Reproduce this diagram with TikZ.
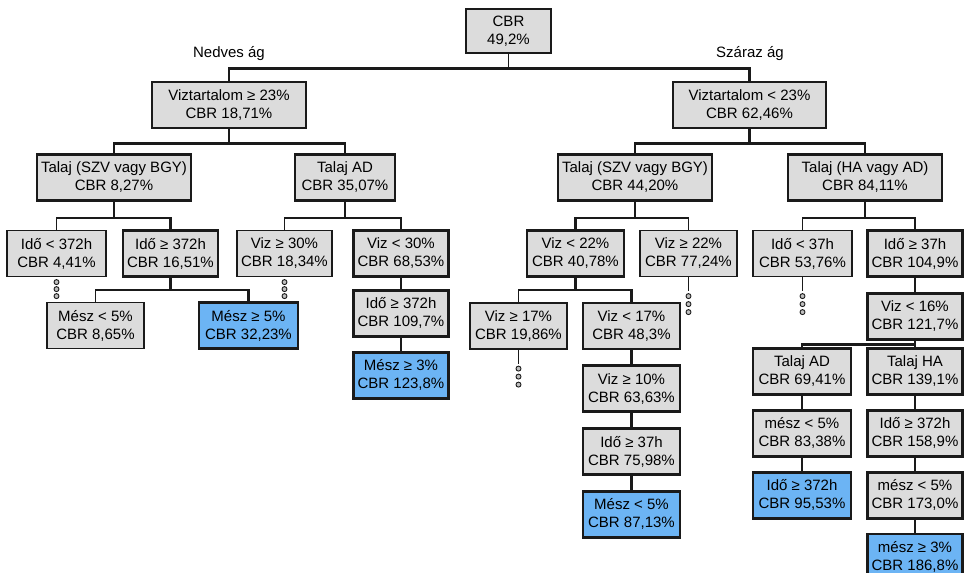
\documentclass[tikz,border=0pt]{standalone}
\usepackage{fontspec}
\setmainfont{Liberation Sans}
\usetikzlibrary{positioning,calc}
\definecolor{boxgray}{HTML}{DCDCDC}
\definecolor{leafblue}{HTML}{6CB4F4}
\definecolor{linegray}{HTML}{1A1A1A}

\begin{document}
\begin{tikzpicture}[x=1pt,y=-1pt,
  box/.style={draw=linegray,fill=boxgray,line width=1.2pt,align=center,inner sep=1pt,minimum height=46pt,font=\fontsize{15}{18}\selectfont},
  hot/.style={line width=2.8pt},
  leaf/.style={box,hot,fill=leafblue},
  lbl/.style={font=\fontsize{15}{18}\selectfont},
  edge/.style={draw=linegray,line width=1.3pt},
  hotedge/.style={draw=linegray,line width=2.8pt},
  dot/.style={circle,draw=linegray,fill=gray!50,line width=0.9pt,inner sep=0pt,minimum size=5pt}
]
  \useasboundingbox (0,0) rectangle (970,573);

  % gyoker es a ket ag
  \node[box,minimum width=85pt,minimum height=44pt] (root) at (508.5,31) {CBR\\49,2\%};
  \node[lbl] (wetlbl) at (229,54) {Nedves ág};
  \node[lbl] (drylbl) at (750,54) {Száraz ág};
  \node[box,hot,minimum width=154pt] (wet) at (229,105) {Viztartalom ≥ 23\%\\CBR 18,71\%};
  \node[box,hot,minimum width=153pt] (dry) at (749.5,105) {Viztartalom < 23\%\\CBR 62,46\%};

  % talaj szint
  \node[box,hot,minimum width=154pt] (wsoil) at (114,177.5) {Talaj (SZV vagy BGY)\\CBR 8,27\%};
  \node[box,hot,minimum width=100pt] (wad) at (345,177.5) {Talaj AD\\CBR 35,07\%};
  \node[box,hot,minimum width=154pt] (dsoil) at (635,177.5) {Talaj (SZV vagy BGY)\\CBR 44,20\%};
  \node[box,hot,minimum width=154pt] (dha) at (865,177.5) {Talaj (HA vagy AD)\\CBR 84,11\%};

  % harmadik szint
  \node[box,minimum width=99pt] (a1) at (56.5,253.5) {Idő < 372h\\CBR 4,41\%};
  \node[box,hot,minimum width=95pt] (a2) at (170.5,253.5) {Idő ≥ 372h\\CBR 16,51\%};
  \node[box,minimum width=95pt] (a3) at (284.5,253.5) {Viz ≥ 30\%\\CBR 18,34\%};
  \node[box,hot,minimum width=95pt] (a4) at (401,253.5) {Viz < 30\%\\CBR 68,53\%};
  \node[box,hot,minimum width=97pt] (a5) at (575.5,253.5) {Viz < 22\%\\CBR 40,78\%};
  \node[box,minimum width=97pt] (a6) at (688.5,253.5) {Viz ≥ 22\%\\CBR 77,24\%};
  \node[box,minimum width=99pt] (a7) at (802.5,253.5) {Idő < 37h\\CBR 53,76\%};
  \node[box,hot,minimum width=95pt] (a8) at (915,253.5) {Idő ≥ 37h\\CBR 104,9\%};

  % nedves ag levelei
  \node[box,minimum width=97pt] (b1) at (95.5,325.5) {Mész < 5\%\\CBR 8,65\%};
  \node[leaf,minimum width=99pt] (b2) at (248.5,325.5) {Mész ≥ 5\%\\CBR 32,23\%};
  \node[box,hot,minimum width=95pt,below=11pt of a4] (b3) {Idő ≥ 372h\\CBR 109,7\%};
  \node[leaf,minimum width=95pt,below=13pt of b3] (b4) {Mész ≥ 3\%\\CBR 123,8\%};

  % szaraz ag, SZV/BGY
  \node[box,minimum width=97pt] (b5) at (518.5,326) {Viz ≥ 17\%\\CBR 19,86\%};
  \node[box,hot,minimum width=97pt] (b6) at (631.5,326) {Viz < 17\%\\CBR 48,3\%};
  \node[box,hot,minimum width=97pt,below=14pt of b6] (b7) {Viz ≥ 10\%\\CBR 63,63\%};
  \node[box,hot,minimum width=97pt,below=14pt of b7] (b8) {Idő ≥ 37h\\CBR 75,98\%};
  \node[leaf,minimum width=97pt,below=14pt of b8] (b9) {Mész < 5\%\\CBR 87,13\%};

  % szaraz ag, HA/AD
  \node[box,hot,minimum width=95pt,below=14pt of a8] (c1) {Viz < 16\%\\CBR 121,7\%};
  \node[box,hot,minimum width=98pt] (c2) at (802,371.5) {Talaj AD\\CBR 69,41\%};
  \node[box,hot,minimum width=95pt] (c3) at (915,371.5) {Talaj HA\\CBR 139,1\%};
  \node[box,hot,minimum width=98pt,below=13pt of c2] (c4) {mész < 5\%\\CBR 83,38\%};
  \node[leaf,minimum width=98pt,below=13pt of c4] (c5) {Idő ≥ 372h\\CBR 95,53\%};
  \node[box,hot,minimum width=95pt,below=13pt of c3] (c6) {Idő ≥ 372h\\CBR 158,9\%};
  \node[box,hot,minimum width=95pt,below=13pt of c6] (c7) {mész < 5\%\\CBR 173,0\%};
  \node[leaf,minimum width=95pt,below=13pt of c7] (c8) {mész ≥ 3\%\\CBR 186,8\%};

  % connectors
  \draw[edge] (root.south) -- ++(0,15) coordinate (rootbus);
  \draw[hotedge] (rootbus) -| (wet.north);
  \draw[hotedge] (rootbus) -| (dry.north);
  \draw[hotedge] (wet.south) -- ++(0,14) -| (wsoil.north);
  \draw[hotedge] (wet.south) -- ++(0,14) -| (wad.north);
  \draw[hotedge] (dry.south) -- ++(0,14) -| (dsoil.north);
  \draw[hotedge] (dry.south) -- ++(0,14) -| (dha.north);
  \draw[edge] (wsoil.south) -- ++(0,16) -| (a1.north);
  \draw[hotedge] (wsoil.south) -- ++(0,16) -| (a2.north);
  \draw[edge] (wad.south) -- ++(0,16) -| (a3.north);
  \draw[hotedge] (wad.south) -- ++(0,16) -| (a4.north);
  \draw[edge] (dsoil.south) -- ++(0,16) -| (a6.north);
  \draw[hotedge] (dsoil.south) -- ++(0,16) -| (a5.north);
  \draw[edge] (dha.south) -- ++(0,16) -| (a7.north);
  \draw[hotedge] (dha.south) -- ++(0,16) -| (a8.north);
  \draw[edge] (a2.south) -- ++(0,12) -| (b1.north);
  \draw[hotedge] (a2.south) -- ++(0,12) -| (b2.north);
  \draw[edge] (a5.south) -- ++(0,12) -| (b5.north);
  \draw[hotedge] (a5.south) -- ++(0,12) -| (b6.north);
  \draw[hotedge] (c1.south) -- ++(0,4) -| (c2.north);
  \draw[hotedge] (c1.south) -- ++(0,4) -| (c3.north);
  \draw[hotedge] (a4) -- (b3); \draw[hotedge] (b3) -- (b4);
  \draw[hotedge] (b6) -- (b7); \draw[hotedge] (b7) -- (b8); \draw[hotedge] (b8) -- (b9);
  \draw[hotedge] (a8) -- (c1);
  \draw[hotedge] (c2) -- (c4); \draw[hotedge] (c4) -- (c5);
  \draw[hotedge] (c3) -- (c6); \draw[hotedge] (c6) -- (c7); \draw[hotedge] (c7) -- (c8);

  % folytatas pontjai
  \foreach \n in {a1,a3}
    \foreach \k in {5,12,19}
      \node[dot] (\n-dot\k) at ($(\n.south)+(0,\k)$) {};
  \foreach \n in {a6,a7,b5} {
    \draw[edge] (\n.south) -- ++(0,14) coordinate (\n-tail);
    \foreach \k in {19,27,35}
      \node[dot] (\n-dot\k) at ($(\n.south)+(0,\k)$) {};
  }
\end{tikzpicture}
\end{document}
